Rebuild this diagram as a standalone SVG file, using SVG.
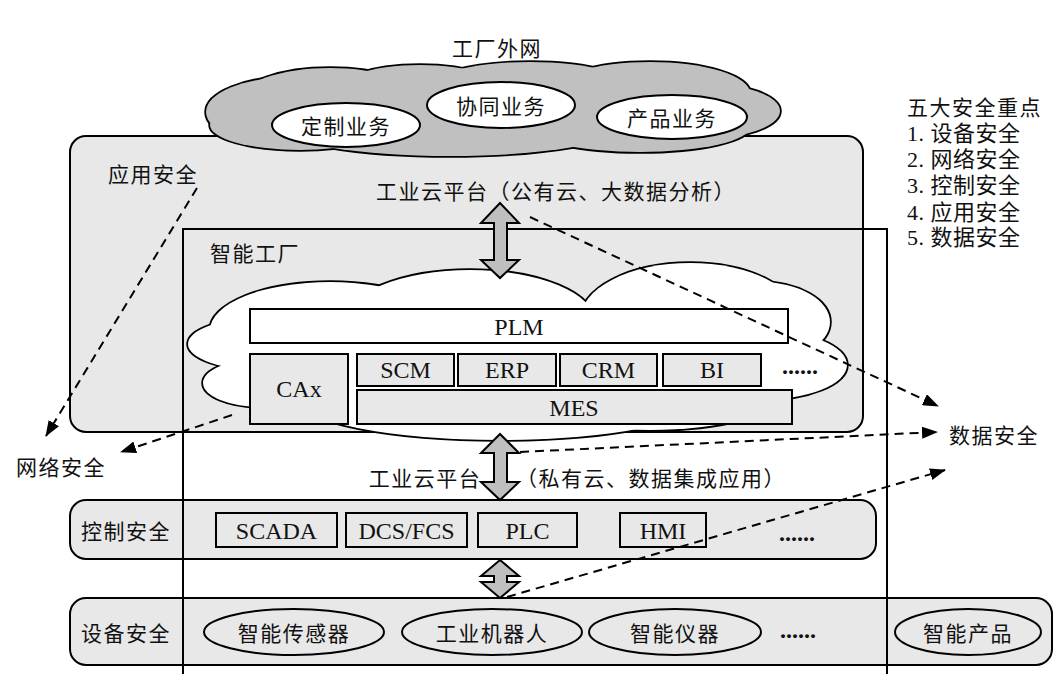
<svg xmlns="http://www.w3.org/2000/svg" width="1060" height="674" viewBox="0 0 1060 674">
<style>
.cjk{font-family:"Noto Sans CJK SC","Liberation Sans",sans-serif;font-size:21px;fill:#111;letter-spacing:1.5px}
.lat{font-family:"Liberation Serif",serif;font-size:24px;fill:#111}
.mix{font-family:"Liberation Serif","Noto Sans CJK SC",serif;font-size:22px;fill:#111;letter-spacing:0.5px}
.ln{stroke:#000;stroke-width:2;fill:none}
.box{fill:#e8e8e8;stroke:#000;stroke-width:2}
.wbox{fill:#fff;stroke:#000;stroke-width:2}
.arr{fill:#bfbfbf;stroke:#000;stroke-width:2;stroke-linejoin:miter}
.dash{stroke:#000;stroke-width:2;fill:none;stroke-dasharray:9 6}
</style>
<defs>
<marker id="ah" markerWidth="16" markerHeight="12" refX="15" refY="6" orient="auto" markerUnits="userSpaceOnUse">
<path d="M0,0 L16,6 L0,12 Z" fill="#000"/>
</marker>
</defs>
<rect width="1060" height="674" fill="#fff"/>

<g id="app-security">
<rect class="box" x="70" y="136" width="793" height="296" rx="16"/>
<text class="cjk" x="153" y="173" text-anchor="middle" dominant-baseline="central">应用安全</text>
<text class="cjk" x="556" y="190" text-anchor="middle" dominant-baseline="central">工业云平台（公有云、大数据分析）</text>
</g>

<g id="control-row">
<rect class="box" x="70" y="500" width="806" height="59" rx="16" fill="#ececec"/>
<text class="cjk" x="126" y="530" text-anchor="middle" dominant-baseline="central">控制安全</text>
<rect class="box" x="216" y="513" width="121" height="34"/>
<text class="lat" x="276.5" y="531" text-anchor="middle" dominant-baseline="central">SCADA</text>
<rect class="box" x="346" y="513" width="121" height="34"/>
<text class="lat" x="406.5" y="531" text-anchor="middle" dominant-baseline="central">DCS/FCS</text>
<rect class="box" x="478" y="513" width="99" height="34"/>
<text class="lat" x="527.5" y="531" text-anchor="middle" dominant-baseline="central">PLC</text>
<rect class="box" x="620" y="513" width="86" height="34"/>
<text class="lat" x="663" y="531" text-anchor="middle" dominant-baseline="central">HMI</text>
<text class="lat" x="797" y="533" text-anchor="middle" dominant-baseline="central" font-weight="bold">......</text>
</g>

<g id="device-row">
<rect class="box" x="70" y="598" width="982" height="67" rx="16" fill="#ececec"/>
<text class="cjk" x="126" y="632" text-anchor="middle" dominant-baseline="central">设备安全</text>
<ellipse class="box" cx="294" cy="632" rx="90" ry="23"/>
<text class="cjk" x="294" y="632" text-anchor="middle" dominant-baseline="central">智能传感器</text>
<ellipse class="box" cx="492" cy="632" rx="90" ry="23"/>
<text class="cjk" x="492" y="632" text-anchor="middle" dominant-baseline="central">工业机器人</text>
<ellipse class="box" cx="675" cy="632" rx="86" ry="23"/>
<text class="cjk" x="675" y="632" text-anchor="middle" dominant-baseline="central">智能仪器</text>
<text class="lat" x="798" y="630" text-anchor="middle" dominant-baseline="central" font-weight="bold">......</text>
<ellipse class="box" cx="968" cy="632" rx="73" ry="23"/>
<text class="cjk" x="968" y="632" text-anchor="middle" dominant-baseline="central">智能产品</text>
</g>

<g id="smart-factory">
<path class="ln" d="M183,674 L183,229 L887,229 L887,674"/>
<text class="cjk" x="255" y="252" text-anchor="middle" dominant-baseline="central">智能工厂</text>
</g>

<g id="inner-cloud">
<g stroke="#000" stroke-width="3.5" fill="#fff">
<ellipse cx="330" cy="330" rx="120" ry="48"/>
<ellipse cx="262" cy="344" rx="74" ry="26"/>
<ellipse cx="262" cy="383" rx="59" ry="24"/>
<ellipse cx="470" cy="322" rx="125" ry="52"/>
<ellipse cx="690" cy="320" rx="110" ry="57"/>
<ellipse cx="760" cy="322" rx="70" ry="40"/>
<ellipse cx="760" cy="365" rx="87" ry="35"/>
<ellipse cx="500" cy="400" rx="200" ry="40"/>
<ellipse cx="650" cy="395" rx="130" ry="35"/>
<ellipse cx="530" cy="360" rx="250" ry="50"/>
</g>
<g fill="#fff">
<ellipse cx="330" cy="330" rx="120" ry="48"/>
<ellipse cx="262" cy="344" rx="74" ry="26"/>
<ellipse cx="262" cy="383" rx="59" ry="24"/>
<ellipse cx="470" cy="322" rx="125" ry="52"/>
<ellipse cx="690" cy="320" rx="110" ry="57"/>
<ellipse cx="760" cy="322" rx="70" ry="40"/>
<ellipse cx="760" cy="365" rx="87" ry="35"/>
<ellipse cx="500" cy="400" rx="200" ry="40"/>
<ellipse cx="650" cy="395" rx="130" ry="35"/>
<ellipse cx="530" cy="360" rx="250" ry="50"/>
</g>
</g>

<g id="plm">
<rect class="wbox" x="250" y="309" width="538" height="34"/>
<text class="lat" x="519" y="327" text-anchor="middle" dominant-baseline="central">PLM</text>
</g>
<g id="cax">
<rect class="box" x="250" y="354" width="98" height="70"/>
<text class="lat" x="299" y="389" text-anchor="middle" dominant-baseline="central">CAx</text>
</g>
<g id="scm">
<rect class="box" x="357" y="354" width="97" height="32"/>
<text class="lat" x="405.5" y="370" text-anchor="middle" dominant-baseline="central">SCM</text>
</g>
<g id="erp">
<rect class="box" x="458" y="354" width="98" height="32"/>
<text class="lat" x="507" y="370" text-anchor="middle" dominant-baseline="central">ERP</text>
</g>
<g id="crm">
<rect class="box" x="560" y="354" width="97" height="32"/>
<text class="lat" x="608.5" y="370" text-anchor="middle" dominant-baseline="central">CRM</text>
</g>
<g id="bi">
<rect class="box" x="663" y="354" width="98" height="32"/>
<text class="lat" x="712" y="370" text-anchor="middle" dominant-baseline="central">BI</text>
</g>
<text class="lat" x="800" y="366" text-anchor="middle" dominant-baseline="central" font-weight="bold">......</text>
<g id="mes">
<rect class="box" x="357" y="390" width="435" height="34"/>
<text class="lat" x="574" y="408" text-anchor="middle" dominant-baseline="central">MES</text>
</g>

<g id="outer-cloud">
<g stroke="#000" stroke-width="3.5" fill="#c0c0c0">
<ellipse cx="292" cy="112" rx="86" ry="35"/>
<ellipse cx="330" cy="100" rx="90" ry="32"/>
<ellipse cx="420" cy="96" rx="90" ry="31"/>
<ellipse cx="530" cy="93" rx="110" ry="31"/>
<ellipse cx="650" cy="93" rx="100" ry="31"/>
<ellipse cx="700" cy="111" rx="80" ry="28"/>
<ellipse cx="450" cy="127" rx="170" ry="29"/>
<ellipse cx="640" cy="127" rx="110" ry="25"/>
<ellipse cx="300" cy="125" rx="90" ry="25"/>
</g>
<g fill="#c0c0c0">
<ellipse cx="292" cy="112" rx="86" ry="35"/>
<ellipse cx="330" cy="100" rx="90" ry="32"/>
<ellipse cx="420" cy="96" rx="90" ry="31"/>
<ellipse cx="530" cy="93" rx="110" ry="31"/>
<ellipse cx="650" cy="93" rx="100" ry="31"/>
<ellipse cx="700" cy="111" rx="80" ry="28"/>
<ellipse cx="450" cy="127" rx="170" ry="29"/>
<ellipse cx="640" cy="127" rx="110" ry="25"/>
<ellipse cx="300" cy="125" rx="90" ry="25"/>
</g>
<text class="cjk" x="497" y="47" text-anchor="middle" dominant-baseline="central">工厂外网</text>
</g>
<g id="custom-biz">
<ellipse class="wbox" cx="346" cy="125" rx="74" ry="22"/>
<text class="cjk" x="346" y="125" text-anchor="middle" dominant-baseline="central">定制业务</text>
</g>
<g id="collab-biz">
<ellipse class="wbox" cx="501" cy="105" rx="74" ry="23"/>
<text class="cjk" x="501" y="105" text-anchor="middle" dominant-baseline="central">协同业务</text>
</g>
<g id="product-biz">
<ellipse class="wbox" cx="672" cy="117" rx="75" ry="22"/>
<text class="cjk" x="672" y="117" text-anchor="middle" dominant-baseline="central">产品业务</text>
</g>

<g id="connectors">
<path class="arr" d="M500,203 L519,223 L507,223 L507,260 L519,260 L500,278 L481,260 L494,260 L494,223 L481,223 Z"/>
<path class="arr" d="M500,434 L519,453 L507,453 L507,482 L519,482 L500,500 L481,482 L494,482 L494,453 L481,453 Z"/>
<path class="arr" d="M500,560 L519,576 L507,576 L507,582 L519,582 L500,598 L481,582 L494,582 L494,576 L481,576 Z"/>
<line class="dash" x1="197" y1="188" x2="46" y2="436" marker-end="url(#ah)"/>
<line class="dash" x1="232" y1="415" x2="121" y2="452" marker-end="url(#ah)"/>
<line class="dash" x1="530" y1="217" x2="938" y2="406" marker-end="url(#ah)"/>
<line class="dash" x1="520" y1="452" x2="937" y2="432" marker-end="url(#ah)"/>
<line class="dash" x1="507" y1="597" x2="945" y2="470" marker-end="url(#ah)"/>
</g>

<g id="labels">
<text class="cjk" x="61" y="466" text-anchor="middle" dominant-baseline="central">网络安全</text>
<text class="cjk" x="994" y="434" text-anchor="middle" dominant-baseline="central">数据安全</text>
<text class="cjk" x="425" y="477" text-anchor="middle" dominant-baseline="central">工业云平台</text>
<text class="cjk" x="651" y="477" text-anchor="middle" dominant-baseline="central">（私有云、数据集成应用）</text>
</g>

<g id="legend">
<text class="cjk" x="907" y="106" dominant-baseline="central">五大安全重点</text>
<text class="mix" x="907" y="133" dominant-baseline="central">1. 设备安全</text>
<text class="mix" x="907" y="159" dominant-baseline="central">2. 网络安全</text>
<text class="mix" x="907" y="185" dominant-baseline="central">3. 控制安全</text>
<text class="mix" x="907" y="212" dominant-baseline="central">4. 应用安全</text>
<text class="mix" x="907" y="237" dominant-baseline="central">5. 数据安全</text>
</g>
</svg>
